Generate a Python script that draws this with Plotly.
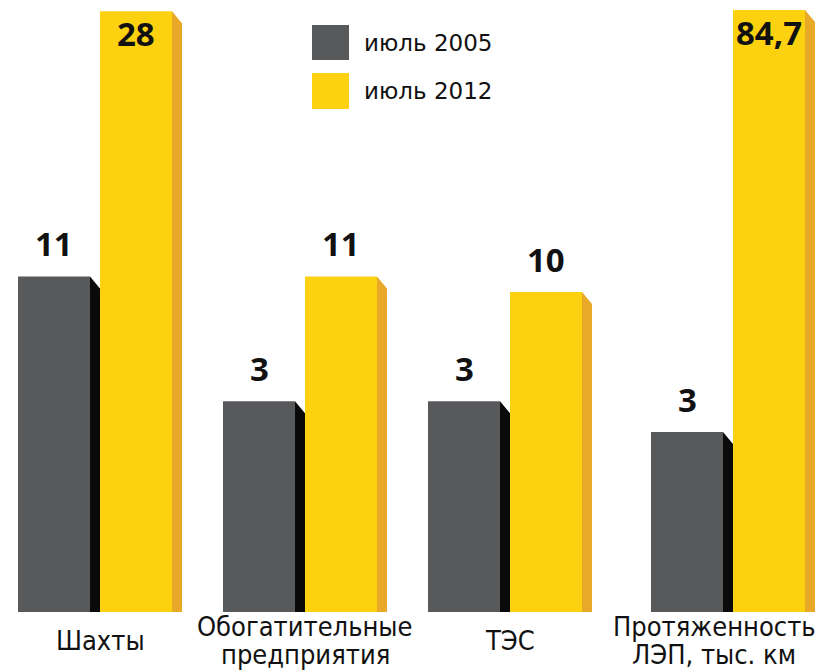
import plotly.graph_objects as go

# ---------------- data ----------------
categories_main = ["Шахты", "Обогатительные\nпредприятия", "ТЭС"]
values_2005_main = [11, 3, 3]
values_2012_main = [28, 11, 10]

category_length = ["Протяженность\nЛЭП, тыс. км"]
values_2005_length = [3]
values_2012_length = [84.7]

series_names = ["июль 2005", "июль 2012"]

# ---------------- style ----------------
W, H = 821, 671
PLOT_BOTTOM_PX = 612          # y pixel of bar bottoms
UNIT_PX = 205                 # pixels per category step
FRONT_PX, SIDE_PX, BEVEL_PX = 72, 10, 12
GREY, GREY_SIDE = "#58595B", "#0A0A0A"
YELLOW, YELLOW_SIDE = "#FCD10F", "#E8A828"
VAL_FONT = dict(family="Open Sans", size=33, color="#111111", weight=700)
CAT_FONT = dict(family="DejaVu Sans Condensed, DejaVu Sans", size=27, color="#111111")
LEG_FONT = dict(family="DejaVu Sans", size=23, color="#111111")

SPLIT_PX = 620                # boundary between the two panels
MAIN_RANGE_Y = [-10.51, 28.72]
LEN_RANGE_Y = [-31.85, 86.64]
MAIN_CENTER0_PX = 100
LEN_CENTER0_PX = 733

plot_h = PLOT_BOTTOM_PX
y_dom = [(H - PLOT_BOTTOM_PX) / H, 1]

x1_range = [-MAIN_CENTER0_PX / UNIT_PX, (SPLIT_PX - MAIN_CENTER0_PX) / UNIT_PX]
x2_range = [-(LEN_CENTER0_PX - SPLIT_PX) / UNIT_PX, (W - LEN_CENTER0_PX) / UNIT_PX]

front_w = FRONT_PX / UNIT_PX
side_w = SIDE_PX / UNIT_PX
grey_off = -(FRONT_PX + SIDE_PX) / UNIT_PX
yellow_off = 0.0

fig = go.Figure()
annotations = []


def fmt(v):
    return f"{v:g}".replace(".", ",")


def add_panel(values05, values12, xref, yref, yrange):
    n = len(values05)
    xs = list(range(n))
    ymin, ymax = yrange
    px_per_unit = plot_h / (ymax - ymin)
    bevel = BEVEL_PX / px_per_unit
    xa = "x" if xref == "x" else "x2"
    ya = "y" if yref == "y" else "y2"
    for vals, off, col, scol, name in [
        (values05, grey_off, GREY, GREY_SIDE, series_names[0]),
        (values12, yellow_off, YELLOW, YELLOW_SIDE, series_names[1]),
    ]:
        fig.add_trace(go.Bar(
            x=xs, y=[v - ymin for v in vals], base=[ymin] * n,
            offset=off, width=front_w, marker=dict(color=col, line=dict(width=0)),
            name=name, showlegend=False, hoverinfo="skip",
            xaxis=xa, yaxis=ya,
        ))
        px_, py_ = [], []
        for x, v in zip(xs, vals):
            s0 = x + off + front_w
            s1 = s0 + side_w
            px_ += [s0, s0, s1, s1, s0, None]
            py_ += [ymin, v, v - bevel, ymin, ymin, None]
        fig.add_trace(go.Scatter(
            x=px_, y=py_, fill="toself", fillcolor=scol, mode="lines",
            line=dict(width=0, color=scol), showlegend=False, hoverinfo="skip",
            xaxis=xa, yaxis=ya,
        ))
        for x, v in zip(xs, vals):
            top_px = (ymax - v) * px_per_unit
            inside = top_px < 50
            annotations.append(dict(
                x=x + off + front_w / 2, y=v, xref=xref, yref=yref,
                text=fmt(v), showarrow=False, font=VAL_FONT,
                xanchor="center", yanchor="top" if inside else "bottom",
                yshift=2 if inside else 8,
            ))


add_panel(values_2005_main, values_2012_main, "x", "y", MAIN_RANGE_Y)
add_panel(values_2005_length, values_2012_length, "x2", "y2", LEN_RANGE_Y)

# category labels
LINE_PX = 28
CENTER_PX = 640


def add_cat_labels(cats, xref, right_edge=False):
    for i, c in enumerate(cats):
        lines = c.split("\n")
        nl = len(lines)
        for j, ln in enumerate(lines):
            cy = CENTER_PX + (j - (nl - 1) / 2) * LINE_PX
            ann = dict(text=ln, showarrow=False, font=CAT_FONT,
                       yref="paper", y=(H - cy) / H, yanchor="middle")
            if right_edge:
                ann.update(xref="paper", x=1.0, xanchor="right", xshift=-3 - (20 if j else 0))
            else:
                ann.update(xref=xref, x=i, xanchor="center")
            annotations.append(ann)


add_cat_labels(categories_main, "x")
add_cat_labels(category_length, "x2", right_edge=True)

# custom legend
shapes = []
LEG_X0, LEG_X1 = 312, 349
for (y0, y1), col, name in [((25, 60), GREY, series_names[0]), ((73, 109), YELLOW, series_names[1])]:
    shapes.append(dict(type="rect", xref="paper", yref="paper",
                       x0=LEG_X0 / W, x1=LEG_X1 / W, y0=1 - y1 / H, y1=1 - y0 / H,
                       fillcolor=col, line=dict(width=0)))
    annotations.append(dict(text=name, showarrow=False, font=LEG_FONT,
                            xref="paper", yref="paper", x=362 / W, y=1 - ((y0 + y1) / 2) / H,
                            xanchor="left", yanchor="middle"))

ax_common = dict(showgrid=False, zeroline=False, showticklabels=False, showline=False, ticks="")
fig.update_layout(
    width=W, height=H, margin=dict(l=0, r=0, t=0, b=0),
    paper_bgcolor="white", plot_bgcolor="white",
    barmode="overlay", showlegend=False,
    xaxis=dict(domain=[0, SPLIT_PX / W], range=x1_range, **ax_common),
    xaxis2=dict(domain=[SPLIT_PX / W, 1], range=x2_range, **ax_common),
    yaxis=dict(domain=y_dom, range=MAIN_RANGE_Y, anchor="x", **ax_common),
    yaxis2=dict(domain=y_dom, range=LEN_RANGE_Y, anchor="x2", **ax_common),
    annotations=annotations, shapes=shapes,
)

fig.write_html(
    "out.html",
    config={"displayModeBar": False},
    post_script="document.body.style.margin='0';document.body.style.padding='0';"
                "document.body.style.overflow='hidden';",
)
